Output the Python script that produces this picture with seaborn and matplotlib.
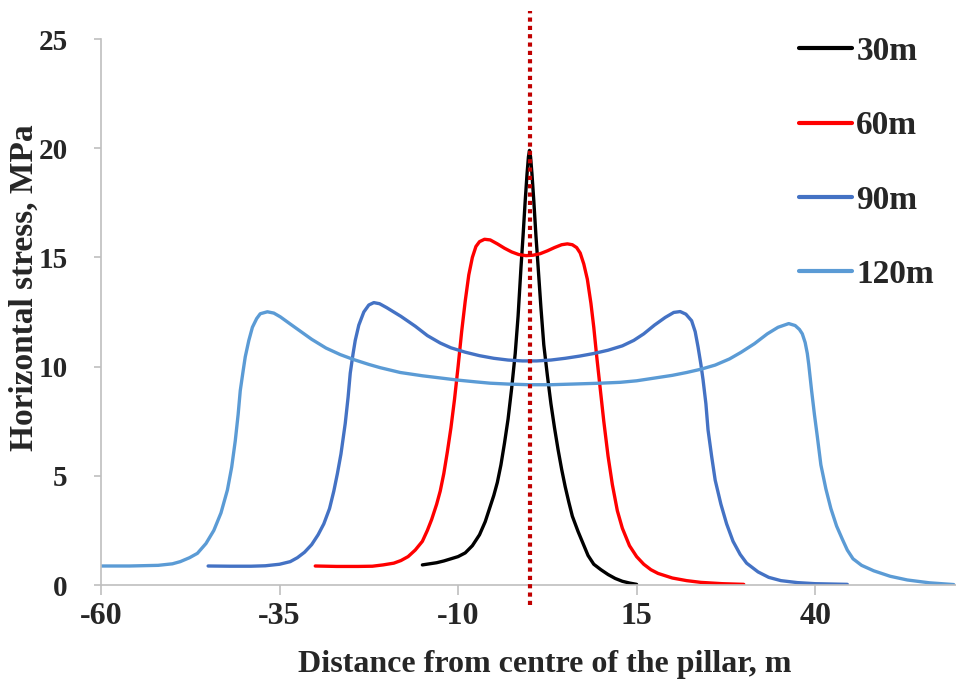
import numpy as np
import pandas as pd
import matplotlib
matplotlib.use("Agg")
import matplotlib.pyplot as plt
from matplotlib.lines import Line2D
import seaborn as sns

# ---- data ----
x_30 = [-15, -14, -13, -12, -11, -10, -9, -8, -7, -6.2, -5.5, -5, -4.5, -4, -3.5,
        -3, -2.5, -2, -1.6, -1.2, -0.9, -0.6, -0.35, -0.15, 0,
        0.15, 0.35, 0.6, 0.9, 1.2, 1.6, 2.0, 2.5, 3.0, 3.5, 4.0, 4.5, 5.0, 5.5,
        6.0, 6.8, 7.5, 8.2, 9, 10, 11, 12, 13, 14, 15]
y_30 = [0.92, 0.97, 1.02, 1.1, 1.2, 1.3, 1.47, 1.8, 2.3, 2.9, 3.6, 4.1, 4.7, 5.5, 6.5,
        7.6, 9.0, 10.6, 12.3, 14.5, 16.0, 17.6, 18.8, 19.6, 19.9,
        19.6, 18.8, 17.6, 16.0, 14.6, 12.7, 11.0, 9.6, 8.3, 7.2, 6.2, 5.3, 4.5, 3.8,
        3.15, 2.45, 1.9, 1.35, 0.95, 0.7, 0.48, 0.3, 0.17, 0.09, 0.03]

x_60 = [-30, -27, -24, -22, -20.5, -19, -18, -17, -16, -15, -14.3, -13.7, -13,
        -12.5, -12, -11.5, -11, -10.5, -10, -9.5, -9, -8.5, -8, -7.5, -7, -6.3,
        -5.5, -4.5, -3.5, -2.5, -1.5, -0.5, 0.5, 1.5, 2.5, 3.5, 4.5, 5.3, 6, 6.6,
        7.1, 7.6, 8.1, 8.6, 9.0, 9.4, 9.9, 10.4, 11, 11.6, 12.3, 13, 14, 15, 16,
        17, 18, 20, 22, 24, 27, 30]
y_60 = [0.87, 0.85, 0.85, 0.86, 0.92, 1.0, 1.12, 1.3, 1.6, 2.0, 2.5, 3.0, 3.7,
        4.3, 5.1, 6.1, 7.2, 8.5, 10.0, 11.6, 13.0, 14.2, 15.0, 15.5, 15.72, 15.83,
        15.8, 15.62, 15.42, 15.25, 15.13, 15.08, 15.1, 15.17, 15.3, 15.45, 15.58,
        15.62, 15.58, 15.45, 15.2, 14.7, 14.0, 12.9, 11.8, 10.5, 9.0, 7.5, 5.9,
        4.6, 3.4, 2.6, 1.8, 1.3, 0.95, 0.7, 0.53, 0.32, 0.2, 0.12, 0.06, 0.03]

x_90 = [-45, -42, -39, -37, -35, -33.5, -32.5, -31.5, -30.5, -29.6, -28.8, -28,
        -27.4, -26.9, -26.4, -25.8, -25.4, -25.1, -24.7, -24.4, -23.9, -23.2,
        -22.5, -21.8, -21, -20, -18, -16, -14.3, -12.5, -11, -9, -7, -5, -3, -1,
        1, 3, 5, 7, 9, 11, 13, 14.6, 16, 17.5, 19, 20.2, 21.1, 21.9, 22.7, 23.2,
        23.6, 24.0, 24.3, 24.7, 25.0, 25.5, 26.0, 26.8, 27.6, 28.5, 29.5, 30.4,
        32, 33.5, 35.2, 37.5, 40, 44.5]
y_90 = [0.87, 0.86, 0.86, 0.88, 0.95, 1.07, 1.25, 1.5, 1.85, 2.3, 2.8, 3.5, 4.3,
        5.1, 6.0, 7.4, 8.6, 9.7, 10.6, 11.2, 11.9, 12.5, 12.82, 12.93, 12.88,
        12.7, 12.3, 11.85, 11.42, 11.08, 10.86, 10.66, 10.5, 10.38, 10.3, 10.26,
        10.26, 10.3, 10.38, 10.48, 10.6, 10.75, 10.95, 11.2, 11.5, 11.9, 12.25,
        12.48, 12.52, 12.4, 12.1, 11.6, 10.9, 10.1, 9.4, 8.3, 7.1, 5.9, 4.8, 3.7,
        2.8, 2.0, 1.4, 1.0, 0.6, 0.35, 0.2, 0.11, 0.06, 0.03]

x_120 = [-60, -56, -52, -50, -48.9, -47.6, -46.5, -45.3, -44.2, -43.2, -42.3,
         -41.7, -41.2, -40.8, -40.5, -40.1, -39.8, -39.3, -38.8, -38.2, -37.7,
         -36.7, -35.8, -34.9, -33.5, -32, -30.5, -28.5, -26.5, -24.6, -22.5,
         -20.9, -18.1, -15, -12.5, -10, -7.5, -5.5, -3, 0, 3, 6, 9.9, 12.7, 15,
         17, 20, 22, 24, 26, 28, 29.6, 31.5, 33.3, 34.8, 36.3, 37.2, 37.8, 38.2,
         38.6, 38.9, 39.1, 39.5, 39.9, 40.3, 40.8, 41.5, 42.2, 43, 43.8, 44.5,
         45.3, 46.5, 48.2, 50.5, 52.9, 56, 59.4]
y_120 = [0.87, 0.87, 0.9, 0.97, 1.07, 1.25, 1.45, 1.9, 2.5, 3.3, 4.35, 5.4, 6.6,
         7.8, 8.9, 9.8, 10.45, 11.2, 11.8, 12.2, 12.42, 12.51, 12.45, 12.28, 11.95,
         11.6, 11.25, 10.85, 10.55, 10.32, 10.1, 9.95, 9.73, 9.58, 9.48, 9.38, 9.3,
         9.24, 9.2, 9.17, 9.17, 9.2, 9.24, 9.28, 9.35, 9.45, 9.6, 9.73, 9.88,
         10.07, 10.35, 10.65, 11.05, 11.5, 11.8, 11.97, 11.88, 11.7, 11.5, 11.1,
         10.6, 10.1, 8.9, 7.8, 6.8, 5.5, 4.4, 3.5, 2.7, 2.1, 1.6, 1.2, 0.9, 0.65,
         0.4, 0.23, 0.1, 0.02]

series_names = ["30m", "60m", "90m", "120m"]
series_colors = ["#000000", "#FF0000", "#4472C4", "#5B9BD5"]
x_ticks = [-60, -35, -10, 15, 40]
y_ticks = [0, 5, 10, 15, 20, 25]
centre_x = 0

frames = []
for name, xs, ys in zip(series_names, [x_30, x_60, x_90, x_120],
                        [y_30, y_60, y_90, y_120]):
    frames.append(pd.DataFrame({"x": xs, "y": ys, "series": name}))
df = pd.concat(frames, ignore_index=True)

sns.set_theme(style="white")
plt.rcParams["font.family"] = ["Liberation Serif", "DejaVu Serif"]
plt.rcParams["font.weight"] = "bold"

fig = plt.figure(figsize=(9.56, 6.83), dpi=100)
ax = fig.add_axes([101 / 956, (683 - 585) / 683, (958 - 101) / 956, (585 - 39) / 683])

sns.lineplot(data=df, x="x", y="y", hue="series", hue_order=series_names,
             palette=series_colors, estimator=None, sort=False, linewidth=2.4,
             ax=ax, legend=False)
for ln in ax.get_lines():
    ln.set_solid_joinstyle("round")
    ln.set_solid_capstyle("round")

# centre line of the pillar
ax.plot([centre_x, centre_x], [-0.92, 26.3], color="#C00000", linewidth=3,
        linestyle=(0, (1, 1)), clip_on=False, zorder=5)

ax.set_xlim(-60, 60)
ax.set_ylim(0, 25)
ax.set_xticks(x_ticks)
ax.set_yticks(y_ticks)
ax.set_xticklabels([str(t) for t in x_ticks], fontsize=23, fontweight="bold")
ax.set_yticklabels([str(t) for t in y_ticks], fontsize=21, fontweight="bold")

for side in ["top", "right"]:
    ax.spines[side].set_visible(False)
for side in ["left", "bottom"]:
    ax.spines[side].set_color("#BFBFBF")
    ax.spines[side].set_linewidth(1.2)
ax.tick_params(axis="x", which="major", direction="out", length=7, width=1.2,
               color="#BFBFBF", pad=5, bottom=True)
ax.tick_params(axis="y", which="major", direction="out", length=5, width=1.2,
               color="#BFBFBF", pad=19, left=True)
ax.grid(False)

ax.set_xlabel("Distance from centre of the pillar, m", fontsize=23,
              fontweight="bold")
ax.set_ylabel("Horizontal stress, MPa", fontsize=24, fontweight="bold")
ax.xaxis.set_label_coords(0.518, -0.119)
ax.yaxis.set_label_coords(-0.071, 0.544)

handles = [Line2D([0], [0], color=c, linewidth=3) for c in series_colors]
fig.legend(handles, series_names, loc="upper left",
           bbox_to_anchor=(799 / 956, 1 - 36 / 683), frameon=False,
           prop={"family": "Liberation Serif", "weight": "bold", "size": 24},
           handlelength=1.6, handletextpad=0.12, labelspacing=1.3,
           borderpad=0, borderaxespad=0)

fig.savefig("out.png", dpi=100)
